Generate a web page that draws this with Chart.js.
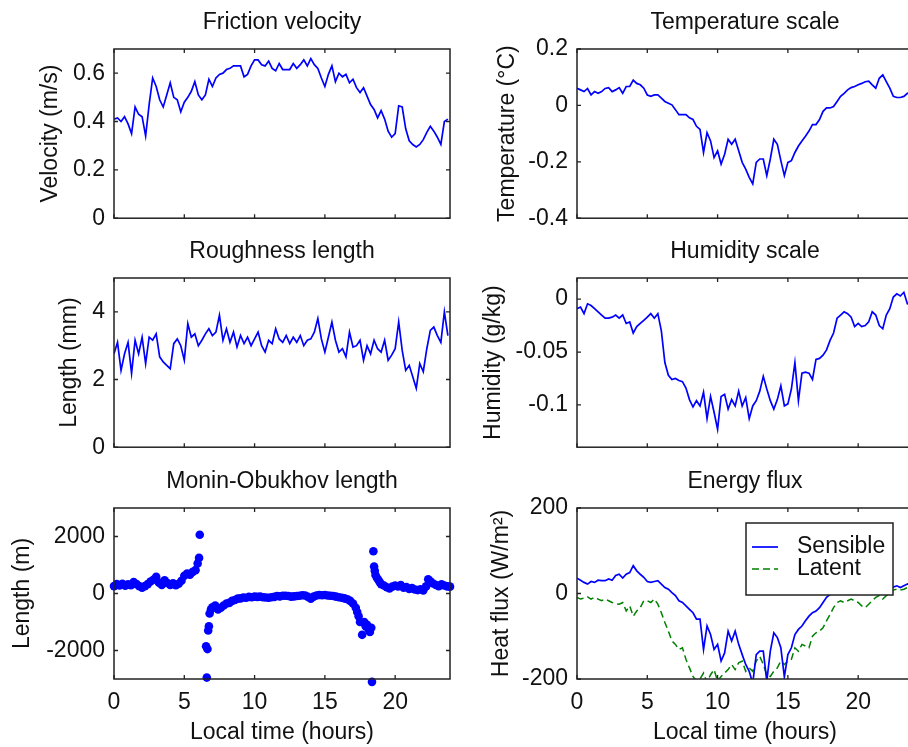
<!DOCTYPE html>
<html>
<head>
<meta charset="utf-8">
<title>Surface layer parameters</title>
<script src="https://cdn.jsdelivr.net/npm/chart.js@4.4.0/dist/chart.umd.min.js"></script>
<style>
  html, body { margin: 0; padding: 0; background: #fff; overflow: hidden; width: 908px; height: 747px; }
  canvas { position: absolute; }
</style>
</head>
<body>
<canvas id="frictionChart" width="456" height="241" style="left:4px;top:0px"></canvas>
<canvas id="temperatureChart" width="456" height="241" style="left:467px;top:0px"></canvas>
<canvas id="roughnessChart" width="456" height="241" style="left:4px;top:229px"></canvas>
<canvas id="humidityChart" width="456" height="241" style="left:467px;top:229px"></canvas>
<canvas id="moChart" width="456" height="288" style="left:4px;top:459px"></canvas>
<canvas id="fluxChart" width="456" height="288" style="left:467px;top:459px"></canvas>
<script>
// sampling step of the line series (hours)
const STEP_HOURS = 0.25;
const hourTicks = [0, 5, 10, 15, 20];

const frictionVelocity = [
  0.41, 0.415, 0.40, 0.42, 0.39, 0.35, 0.46, 0.43,
  0.42, 0.34, 0.47, 0.58, 0.545, 0.49, 0.46, 0.51,
  0.56, 0.50, 0.49, 0.44, 0.48, 0.50, 0.525, 0.565,
  0.51, 0.49, 0.51, 0.575, 0.545, 0.58, 0.595, 0.60,
  0.615, 0.62, 0.63, 0.63, 0.63, 0.585, 0.595, 0.63,
  0.655, 0.655, 0.635, 0.63, 0.65, 0.62, 0.61, 0.64,
  0.615, 0.615, 0.615, 0.64, 0.62, 0.635, 0.655, 0.63,
  0.66, 0.635, 0.62, 0.58, 0.545, 0.595, 0.63, 0.565,
  0.60, 0.585, 0.595, 0.56, 0.575, 0.54, 0.52, 0.54,
  0.505, 0.47, 0.45, 0.415, 0.445, 0.41, 0.36, 0.335,
  0.35, 0.465, 0.46, 0.37, 0.32, 0.305, 0.295, 0.305,
  0.325, 0.355, 0.38, 0.36, 0.335, 0.305, 0.40, 0.41
];

const temperatureScale = [
  0.061, 0.055, 0.049, 0.06, 0.037, 0.049, 0.043, 0.049,
  0.06, 0.063, 0.049, 0.055, 0.063, 0.043, 0.067, 0.067,
  0.09, 0.078, 0.073, 0.061, 0.037, 0.032, 0.037, 0.037,
  0.026, 0.014, 0.008, 0.002, -0.015, -0.033, -0.033, -0.033,
  -0.044, -0.05, -0.074, -0.085, -0.167, -0.097, -0.126, -0.185,
  -0.161, -0.208, -0.173, -0.12, -0.138, -0.12, -0.161, -0.202,
  -0.226, -0.255, -0.278, -0.202, -0.19, -0.19, -0.249, -0.19,
  -0.12, -0.138, -0.196, -0.249, -0.202, -0.196, -0.167, -0.144,
  -0.126, -0.109, -0.091, -0.068, -0.068, -0.05, -0.021, -0.009,
  -0.009, -0.004, 0.014, 0.032, 0.043, 0.055, 0.063, 0.067,
  0.073, 0.078, 0.084, 0.086, 0.073, 0.061, 0.096, 0.108,
  0.084, 0.061, 0.032, 0.028, 0.028, 0.032, 0.043, 0.045
];

const roughnessLength = [
  2.76, 3.1, 2.27, 2.76, 3.1, 2.18, 3.16, 2.76,
  3.25, 2.47, 3.25, 3.16, 3.35, 2.67, 2.52, 2.42,
  2.32, 3.06, 3.2, 3.0, 2.57, 3.65, 3.25, 3.35,
  3.0, 3.16, 3.35, 3.5, 3.3, 3.4, 3.9, 3.16,
  3.5, 3.1, 3.4, 2.96, 3.3, 3.06, 3.25, 3.0,
  3.2, 3.4, 3.0, 2.81, 3.16, 3.06, 3.5, 3.2,
  3.1, 3.3, 3.06, 3.25, 3.1, 3.3, 3.0, 3.16,
  3.2, 3.4, 3.8, 3.2, 2.81, 3.25, 3.7, 3.16,
  2.81, 2.91, 2.67, 3.4, 2.96, 3.0, 3.16, 2.57,
  3.0, 2.76, 3.16, 2.91, 2.81, 3.16, 2.57, 2.72,
  2.91, 3.7, 2.86, 2.27, 2.42, 2.08, 1.74, 2.47,
  2.23, 2.91, 3.45, 3.55, 3.3, 3.1, 4.0, 3.3
];

const humidityScale = [
  -0.009, -0.0075, -0.0137, -0.0044, -0.006, -0.009, -0.012, -0.015,
  -0.018, -0.018, -0.017, -0.015, -0.018, -0.015, -0.023, -0.0215,
  -0.032, -0.026, -0.023, -0.02, -0.017, -0.0137, -0.018, -0.0137,
  -0.03, -0.06, -0.072, -0.076, -0.075, -0.077, -0.078, -0.084,
  -0.095, -0.102, -0.096, -0.101, -0.088, -0.113, -0.092, -0.107,
  -0.123, -0.092, -0.09, -0.104, -0.095, -0.101, -0.087, -0.101,
  -0.093, -0.113, -0.101, -0.096, -0.087, -0.073, -0.085, -0.096,
  -0.104, -0.095, -0.082, -0.101, -0.099, -0.085, -0.06, -0.096,
  -0.07, -0.069, -0.07, -0.076, -0.057, -0.056, -0.053, -0.048,
  -0.039, -0.032, -0.018, -0.015, -0.012, -0.0137, -0.017, -0.026,
  -0.023, -0.026, -0.025, -0.0215, -0.012, -0.015, -0.025, -0.028,
  -0.015, -0.009, 0.002, 0.005, 0.003, 0.0065, -0.0044, -0.005
];

const sensibleFlux = [
  36, 31, 26, 22, 28, 26, 31, 30,
  30, 34, 31, 42, 45, 36, 45, 49,
  65, 53, 45, 38, 28, 26, 28, 30,
  22, 14, 10, 2, -5, -17, -21, -29,
  -37, -45, -60, -60, -131, -76, -96, -131,
  -119, -158, -139, -88, -111, -88, -119, -143,
  -166, -182, -210, -143, -135, -135, -205, -135,
  -92, -103, -127, -195, -143, -127, -96, -84,
  -76, -64, -53, -45, -41, -33, -21, -9,
  -2, 2, 5, 4, 6, 8, 7, 10,
  9, 12, 11, 13, 12, 14, 13, 15,
  14, 16, 15, 18, 14, 18, 22, 25
];

const latentFlux = [
  -9, -13, -11, -8, -13, -9, -13, -17,
  -13, -17, -21, -24, -25, -21, -41, -29,
  -53, -41, -33, -17, -17, -21, -13, -25,
  -45, -68, -88, -111, -119, -131, -127, -154,
  -174, -194, -205, -200, -186, -208, -190, -178,
  -205, -194, -186, -178, -166, -178, -162, -158,
  -182, -174, -182, -158, -147, -166, -190, -194,
  -182, -174, -158, -166, -158, -154, -127, -135,
  -119, -123, -127, -100, -92, -88, -80, -64,
  -49, -33, -21, -17, -21, -17, -13, -17,
  -21, -29, -33, -25, -17, -9, -5, -13,
  -5, -2, 8, 10, 8, 10, 14, 15
];

// Monin-Obukhov length, scattered samples (hours, metres)
const moHours = [
  0.0, 0.2, 0.4, 0.6, 0.8, 1.0, 1.2, 1.4, 1.6, 1.8, 2.0, 2.2, 2.4, 2.6, 2.8, 3.0,
  3.2, 3.4, 3.6, 3.8, 4.0, 4.2, 4.4, 4.6, 4.8, 5.0, 5.2, 5.4, 5.6, 5.8, 5.95, 6.05, 6.1,
  6.55, 6.6, 6.65, 6.7, 6.75, 6.8, 6.9, 7.0, 7.2, 7.4, 7.6, 7.8, 8.0, 8.2, 8.4, 8.6,
  8.8, 9.0, 9.2, 9.4, 9.6, 9.8, 10.0, 10.2, 10.4, 10.6, 10.8, 11.0, 11.2, 11.4, 11.6,
  11.8, 12.0, 12.2, 12.4, 12.6, 12.8, 13.0, 13.2, 13.4, 13.6, 13.8, 14.0, 14.2, 14.4,
  14.6, 14.8, 15.0, 15.2, 15.4, 15.6, 15.8, 16.0, 16.2, 16.4, 16.6, 16.8, 17.0, 17.2,
  17.3, 17.4, 17.5, 17.65, 17.8, 17.9, 18.0, 18.1, 18.2, 18.3, 18.35,
  18.45, 18.5, 18.55, 18.6, 18.7, 18.8, 18.9, 19.0, 19.2, 19.4, 19.6, 19.8, 20.0, 20.2,
  20.4, 20.6, 20.8, 21.0, 21.2, 21.4, 21.6, 21.8, 22.0, 22.2, 22.35, 22.5, 22.7, 22.9,
  23.1, 23.3, 23.5, 23.7, 23.9
];
const moLength = [
  260, 330, 280, 340, 270, 320, 290, 400, 330, 260, 200, 260, 330, 420, 480, 590,
  380, 300, 460, 370, 300, 360, 290, 340, 450, 620, 700, 660, 760, 820, 1050, 1250, 2060,
  -1850, -2950, -1950, -1300, -1150, -700, -550, -480, -420, -560, -500, -420, -350, -330, -260, -230,
  -180, -170, -140, -150, -120, -130, -110, -120, -110, -130, -140, -150, -130, -120, -90,
  -100, -80, -80, -90, -110, -100, -90, -80, -60, -70, -120, -180, -110, -70,
  -50, -60, -50, -70, -80, -90, -110, -130, -150, -170, -200, -260, -350, -500,
  -650, -800, -1000, -1450, -1000, -1150, -1100, -1250, -1350, -1200, -3100,
  1480, 950, 800, 650, 550, 480, 400, 330, 280, 220, 180, 240, 280, 250,
  300, 200, 230, 160, 190, 140, 120, 150, 110, 250, 500, 430, 350, 300,
  260, 320, 280, 250, 240
];

const velocityTicks = [0, 0.2, 0.4, 0.6];
const temperatureTicks = [-0.4, -0.2, 0, 0.2];
const roughnessTicks = [0, 2, 4];
const humidityTicks = [-0.1, -0.05, 0];
const moTicks = [-2000, 0, 2000];
const fluxTicks = [-200, 0, 200];

const FONT = '"Liberation Sans", Arial, Helvetica, sans-serif';
const TEXT = "#111";
const BLUE = "#0000ff";
const GREEN = "#008000";

Chart.defaults.font.family = FONT;
Chart.defaults.font.size = 23;
Chart.defaults.color = TEXT;

function toPoints(values) {
  return values.map((v, i) => ({ x: i * STEP_HOURS, y: v }));
}

// MATLAB style box with inward ticks on all four sides
const boxTicks = {
  id: "boxTicks",
  afterDraw(chart) {
    const { ctx, chartArea: a, scales } = chart;
    ctx.save();
    ctx.strokeStyle = "#222";
    ctx.lineWidth = 1.5;
    ctx.strokeRect(a.left, a.top, a.right - a.left, a.bottom - a.top);
    ctx.lineWidth = 1.3;
    ctx.beginPath();
    scales.x.ticks.forEach((t) => {
      const px = scales.x.getPixelForValue(t.value);
      ctx.moveTo(px, a.bottom);
      ctx.lineTo(px, a.bottom - 4);
      ctx.moveTo(px, a.top);
      ctx.lineTo(px, a.top + 4);
    });
    scales.y.ticks.forEach((t) => {
      const py = scales.y.getPixelForValue(t.value);
      ctx.moveTo(a.left, py);
      ctx.lineTo(a.left + 4, py);
      ctx.moveTo(a.right, py);
      ctx.lineTo(a.right - 4, py);
    });
    ctx.stroke();
    ctx.restore();
  },
};

// legend box drawn inside the plot, upper right
const insideLegend = {
  id: "insideLegend",
  afterDraw(chart) {
    const { ctx, chartArea: a } = chart;
    const x = a.left + 169;
    const y = a.top + 15;
    ctx.save();
    ctx.fillStyle = "#fff";
    ctx.fillRect(x, y, 147, 72);
    ctx.strokeStyle = "#222";
    ctx.lineWidth = 1.5;
    ctx.strokeRect(x, y, 147, 72);
    ctx.font = "23px " + FONT;
    ctx.textBaseline = "middle";
    chart.data.datasets.forEach((ds, i) => {
      const ly = y + 24 + i * 22;
      ctx.strokeStyle = ds.borderColor;
      ctx.lineWidth = ds.borderWidth;
      ctx.setLineDash(ds.borderDash || []);
      ctx.beginPath();
      ctx.moveTo(x + 6, ly);
      ctx.lineTo(x + 32, ly);
      ctx.stroke();
      ctx.setLineDash([]);
      ctx.fillStyle = TEXT;
      ctx.fillText(ds.label, x + 51, ly);
    });
    ctx.restore();
  },
};

function makePanel(id, opts) {
  const ctx = document.getElementById(id).getContext("2d");
  return new Chart(ctx, {
    type: "line",
    data: { datasets: opts.datasets },
    options: {
      responsive: false,
      animation: false,
      events: [],
      layout: { padding: { left: 0, right: 10, top: 0, bottom: 0 } },
      plugins: {
        legend: { display: false },
        tooltip: { enabled: false },
        title: {
          display: true,
          text: opts.title,
          fullSize: false,
          font: { size: 23, weight: "normal" },
          color: TEXT,
          padding: { top: 9, bottom: 12.4 },
        },
      },
      scales: {
        x: {
          type: "linear",
          min: 0,
          max: 23.9,
          grid: { display: false, drawTicks: false },
          border: { display: false },
          afterBuildTicks: (s) => {
            s.ticks = hourTicks.map((v) => ({ value: v }));
          },
          ticks: {
            display: opts.showX,
            padding: 10,
            maxRotation: 0,
            callback: (v) => String(v),
          },
          title: {
            display: opts.showX,
            text: "Local time (hours)",
            padding: { top: 0, bottom: 1 },
          },
          afterFit: (s) => {
            s.height = opts.showX ? 68 : 20;
          },
        },
        y: {
          type: "linear",
          min: opts.yMin,
          max: opts.yMax,
          grid: { display: false, drawTicks: false },
          border: { display: false },
          afterBuildTicks: (s) => {
            s.ticks = opts.yTicks.map((v) => ({ value: v }));
          },
          ticks: { padding: 9, callback: (v) => String(v) },
          title: {
            display: true,
            text: opts.yTitle,
            padding: { top: opts.yTitlePad, bottom: 0 },
          },
          afterFit: (s) => {
            s.width = 110;
          },
        },
      },
    },
    plugins: opts.legend ? [boxTicks, insideLegend] : [boxTicks],
  });
}

function blueLine(values, label) {
  return {
    label: label,
    data: toPoints(values),
    borderColor: BLUE,
    borderWidth: 1.7,
    pointRadius: 0,
    tension: 0,
    fill: false,
  };
}

makePanel("frictionChart", {
  title: "Friction velocity",
  yTitle: "Velocity (m/s)",
  yTitlePad: 33,
  yMin: 0,
  yMax: 0.7,
  yTicks: velocityTicks,
  showX: false,
  datasets: [blueLine(frictionVelocity, "Friction velocity")],
});

makePanel("temperatureChart", {
  title: "Temperature scale",
  yTitle: "Temperature (°C)",
  yTitlePad: 27,
  yMin: -0.4,
  yMax: 0.2,
  yTicks: temperatureTicks,
  showX: false,
  datasets: [blueLine(temperatureScale, "Temperature scale")],
});

makePanel("roughnessChart", {
  title: "Roughness length",
  yTitle: "Length (mm)",
  yTitlePad: 52,
  yMin: 0,
  yMax: 5,
  yTicks: roughnessTicks,
  showX: false,
  datasets: [blueLine(roughnessLength, "Roughness length")],
});

makePanel("humidityChart", {
  title: "Humidity scale",
  yTitle: "Humidity (g/kg)",
  yTitlePad: 13,
  yMin: -0.14,
  yMax: 0.02,
  yTicks: humidityTicks,
  showX: false,
  datasets: [blueLine(humidityScale, "Humidity scale")],
});

makePanel("moChart", {
  title: "Monin-Obukhov length",
  yTitle: "Length (m)",
  yTitlePad: 5,
  yMin: -3000,
  yMax: 3000,
  yTicks: moTicks,
  showX: true,
  datasets: [
    {
      label: "Monin-Obukhov length",
      data: moHours.map((h, i) => ({ x: h, y: moLength[i] })),
      showLine: false,
      pointRadius: 4.3,
      pointBackgroundColor: BLUE,
      pointBorderWidth: 0,
      clip: false,
    },
  ],
});

makePanel("fluxChart", {
  title: "Energy flux",
  yTitle: "Heat flux (W/m²)",
  yTitlePad: 21,
  yMin: -200,
  yMax: 200,
  yTicks: fluxTicks,
  showX: true,
  legend: true,
  datasets: [
    blueLine(sensibleFlux, "Sensible"),
    {
      label: "Latent",
      data: toPoints(latentFlux),
      borderColor: GREEN,
      borderWidth: 1.5,
      borderDash: [7, 4],
      pointRadius: 0,
      tension: 0,
      fill: false,
    },
  ],
});
</script>
</body>
</html>
